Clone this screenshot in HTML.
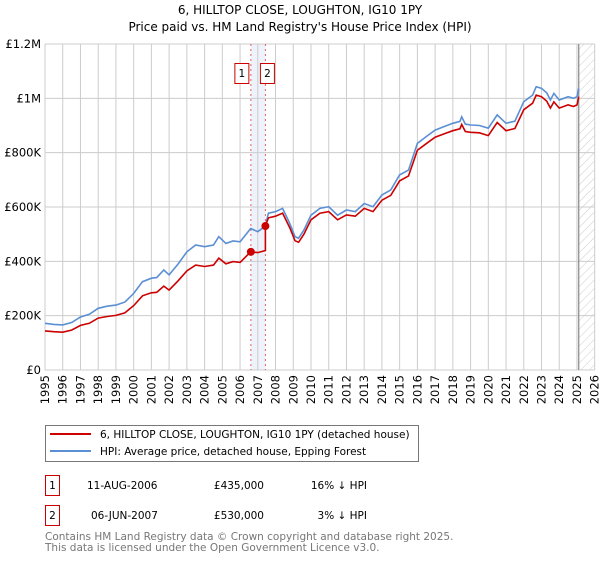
<!DOCTYPE html>
<html><head><meta charset="utf-8"><style>
body{margin:0;background:#fff;font-family:"DejaVu Sans","Liberation Sans",sans-serif;}
svg text{font-family:"DejaVu Sans","Liberation Sans",sans-serif;}
</style></head><body>
<svg id="chart" width="600" height="560" xmlns="http://www.w3.org/2000/svg">
<defs><pattern id="hatch" width="6" height="6" patternUnits="userSpaceOnUse" patternTransform="rotate(45)"><line x1="0" y1="0" x2="0" y2="6" stroke="#ccc" stroke-width="1"/></pattern></defs>
<text x="300" y="14" font-size="12" text-anchor="middle">6, HILLTOP CLOSE, LOUGHTON, IG10 1PY</text>
<text x="300" y="31" font-size="12" text-anchor="middle">Price paid vs. HM Land Registry's House Price Index (HPI)</text>
<g id="grid"></g><g id="marks"></g><g id="axes"></g>
<rect x="45.5" y="425.5" width="373" height="36" fill="#fff" stroke="#777"/>
<line x1="50" y1="434" x2="91" y2="434" stroke="#cc0000" stroke-width="2"/>
<text x="100" y="438" font-size="10.5">6, HILLTOP CLOSE, LOUGHTON, IG10 1PY (detached house)</text>
<line x1="50" y1="451" x2="91" y2="451" stroke="#5b8fd4" stroke-width="2"/>
<text x="100" y="455" font-size="10.5">HPI: Average price, detached house, Epping Forest</text>
<g font-size="10.5">
<rect x="45.5" y="475.5" width="14" height="20" fill="#fff" stroke="#cc0000"/><text x="52.5" y="489" text-anchor="middle">1</text>
<text x="87" y="489">11-AUG-2006</text><text x="264" y="489" text-anchor="end">£435,000</text><text x="367" y="489" text-anchor="end">16% ↓ HPI</text></g>
<g font-size="10.5">
<rect x="45.5" y="505.5" width="14" height="20" fill="#fff" stroke="#cc0000"/><text x="52.5" y="519" text-anchor="middle">2</text>
<text x="91" y="519">06-JUN-2007</text><text x="264" y="519" text-anchor="end">£530,000</text><text x="367" y="519" text-anchor="end">3% ↓ HPI</text></g>
<text x="45" y="540" font-size="10.5" fill="#777">Contains HM Land Registry data © Crown copyright and database right 2025.</text>
<text x="45" y="551" font-size="10.5" fill="#777">This data is licensed under the Open Government Licence v3.0.</text>
</svg>
<script>
const yTicks=[0,200,400,600,800,1000,1200];
const yTickLabels=["£0","£200K","£400K","£600K","£800K","£1M","£1.2M"];
const xTicks=[1995,1996,1997,1998,1999,2000,2001,2002,2003,2004,2005,2006,2007,2008,2009,2010,2011,2012,2013,2014,2015,2016,2017,2018,2019,2020,2021,2022,2023,2024,2025,2026];
const hpiYears=[1995,1995.5,1996,1996.5,1997,1997.5,1998,1998.5,1999,1999.5,2000,2000.5,2001,2001.3,2001.7,2002,2002.5,2003,2003.5,2004,2004.5,2004.8,2005.2,2005.6,2006,2006.6,2007,2007.43,2007.6,2008,2008.4,2008.8,2009.1,2009.3,2009.6,2010,2010.5,2011,2011.5,2012,2012.5,2013,2013.5,2014,2014.5,2015,2015.5,2016,2016.5,2017,2017.5,2018,2018.4,2018.5,2018.7,2019,2019.5,2020,2020.5,2021,2021.5,2022,2022.5,2022.7,2023,2023.3,2023.5,2023.7,2024,2024.5,2024.8,2025,2025.1];
const hpiValues=[172,168,166,175,195,205,227,235,239,250,282,325,338,340,368,350,390,435,460,454,460,491,466,475,472,521,509,530,577,583,595,540,491,485,515,570,595,601,570,589,583,613,601,644,663,718,736,834,859,883,896,908,915,932,905,902,900,890,939,908,916,988,1012,1043,1037,1020,994,1018,994,1006,1000,1006,1037];
const priceYears=[1995,1995.5,1996,1996.5,1997,1997.5,1998,1998.5,1999,1999.5,2000,2000.5,2001,2001.3,2001.7,2002,2002.5,2003,2003.5,2004,2004.5,2004.8,2005.2,2005.6,2006,2006.6,2007,2007.43,2007.43,2007.6,2008,2008.4,2008.8,2009.1,2009.3,2009.6,2010,2010.5,2011,2011.5,2012,2012.5,2013,2013.5,2014,2014.5,2015,2015.5,2016,2016.5,2017,2017.5,2018,2018.4,2018.5,2018.7,2019,2019.5,2020,2020.5,2021,2021.5,2022,2022.5,2022.7,2023,2023.3,2023.5,2023.7,2024,2024.5,2024.8,2025,2025.1];
const priceValues=[144,141,139,147,164,172,191,197,201,210,237,273,284,286,309,294,328,365,386,381,386,412,391,399,396,435,432,440,530,560,566,577,524,476,470,500,553,577,583,553,571,566,595,583,625,643,696,714,809,833,857,869,881,888,904,878,875,873,863,911,881,889,958,982,1012,1006,989,964,987,964,976,970,976,1006];
const saleYears=[2006.61,2007.43];
const saleValues=[435,530];
const saleLabels=["1","2"];
const X0=45,X1=594.7,Y0=370,Y1=44;
const xs=y=>X0+(y-1995)/(2026-1995)*(X1-X0);
const ys=v=>Y0-v/1200*(Y0-Y1);
const NS="http://www.w3.org/2000/svg";
function mk(p,t,a){const e=document.createElementNS(NS,t);for(const k in a)e.setAttribute(k,a[k]);p.appendChild(e);return e;}
const grid=document.getElementById('grid'),marks=document.getElementById('marks'),axes=document.getElementById('axes');
// shaded sale band
const band=mk(grid,'rect',{x:xs(saleYears[0]),y:Y1,width:xs(saleYears[1])-xs(saleYears[0]),height:Y0-Y1,fill:'#eef2fb'});


const hat=mk(grid,'rect',{x:xs(2025.1),y:Y1,width:X1-xs(2025.1),height:Y0-Y1,fill:'url(#hatch)'});


yTicks.forEach((v,i)=>{
 const l=mk(grid,'line',{x1:X0,x2:X1,y1:ys(v),y2:ys(v),stroke:'#ccc'});
 
 
 const t=mk(axes,'text',{x:X0-4,y:ys(v)+4,'font-size':'11.5','text-anchor':'end'});t.textContent=yTickLabels[i];
 
 
});
xTicks.forEach(yr=>{
 const l=mk(grid,'line',{x1:xs(yr),x2:xs(yr),y1:Y1,y2:Y0,stroke:'#ccc'});
 
 
 const t=mk(axes,'text',{x:0,y:0,'font-size':'11.5','text-anchor':'end',transform:`translate(${xs(yr)+4},${Y0+5}) rotate(-90)`});t.textContent=yr;
 
 
});
const dv=mk(grid,'line',{x1:xs(2025.1),x2:xs(2025.1),y1:Y1,y2:Y0,stroke:'#888','stroke-width':1.2});


saleYears.forEach((yr,i)=>{
 const l=mk(grid,'line',{x1:xs(yr),x2:xs(yr),y1:Y1,y2:Y0,stroke:'#e06060','stroke-dasharray':'2,3'});
 
 
});
function path(xa,va,color,name){
 const d=xa.map((y,i)=>(i?'L':'M')+xs(y).toFixed(1)+','+ys(va[i]).toFixed(1)).join('');
 const p=mk(marks,'path',{d:d,fill:'none',stroke:color,'stroke-width':1.6});
 
 
}
path(hpiYears,hpiValues,'#5b8fd4','hpi-line');
path(priceYears,priceValues,'#cc0000','price-paid-line');
saleYears.forEach((yr,i)=>{
 const c=mk(marks,'circle',{cx:xs(yr),cy:ys(saleValues[i]),r:4,fill:'#cc0000'});
 
 
 const bx=i===0?xs(yr)-16:xs(yr)-5;
 const r=mk(marks,'rect',{x:bx,y:63.5,width:14,height:20,fill:'#fff',stroke:'#cc0000'});
 
 
 const t=mk(marks,'text',{x:bx+7,y:77,'font-size':'10.5','text-anchor':'middle'});t.textContent=saleLabels[i];
 
 
});
</script>
</body></html>
